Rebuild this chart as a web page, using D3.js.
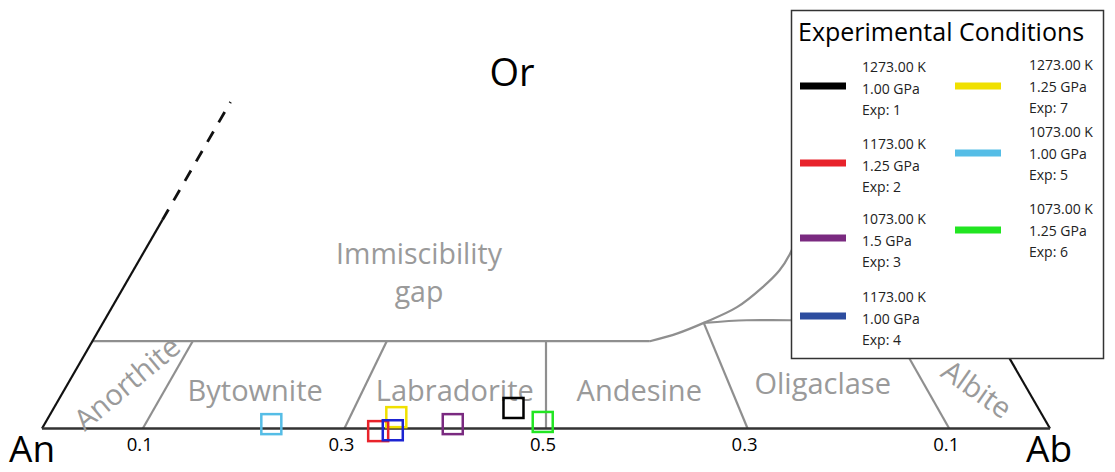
<!DOCTYPE html>
<html><head><meta charset="utf-8">
<script src="https://cdn.jsdelivr.net/npm/d3@7"></script>
<style>body{margin:0;background:#fff}text{font-family:"Open Sans",sans-serif}</style>
</head><body>
<svg id="chart" width="1115" height="472"></svg>
<script>
// ---- data ----
const experiments = [1, 2, 3, 4, 5, 6, 7];
const temperatures = ["1273.00", "1173.00", "1073.00", "1173.00", "1073.00", "1073.00", "1273.00"];
const pressures = ["1.00", "1.25", "1.5", "1.00", "1.00", "1.25", "1.25"];
const abFraction = [0.456, 0.335, 0.405, 0.349, 0.225, 0.493, 0.345];
const orFraction = [0.0235, -0.003, 0.005, -0.002, 0.005, 0.0075, 0.013];
const seriesColors = ["#000000", "#e8232b", "#7a2a80", "#1c24d2", "#55bde6", "#22e522", "#f0e000"];
const swatchColors = ["#000000", "#e8232b", "#7a2a80", "#2d4d9f", "#55bde6", "#22e522", "#f0e000"];
const legendColumns = [[1, 2, 3, 4], [7, 5, 6]];
const drawOrder = [7, 1, 2, 3, 4, 5, 6];

const tickValues = [0.1, 0.3, 0.5, 0.7, 0.9];
const tickLabels = ["0.1", "0.3", "0.5", "0.3", "0.1"];

const dividerBaseAb = [0.1, 0.3, 0.5, 0.7, 0.9];
const dividerTopAb = [0.0995, 0.292, 0.45, 0.596, 0.777];
const dividerTopOr = [0.1, 0.1, 0.1, 0.121, 0.124];

const gapLineAb = [0, 0.553];
const gapLineOr = [0.1, 0.1];
const solvusAb = [0.553, 0.576, 0.596, 0.620, 0.634, 0.641, 0.642, 0.638, 0.62];
const solvusOr = [0.1, 0.109, 0.121, 0.139, 0.162, 0.181, 0.2, 0.227, 0.28];
const branchAb = [0.596, 0.637, 0.68, 0.876];
const branchOr = [0.121, 0.124, 0.124, 0.124];

const fieldNames = ["Anorthite", "Bytownite", "Labradorite", "Andesine", "Oligaclase", "Albite"];
const fieldAb = [0.057, 0.189, 0.387, 0.570, 0.748, 0.905];
const fieldOr = [0.053, 0.045, 0.045, 0.045, 0.053, 0.046];
const fieldAngle = [-40, 0, 0, 0, 0, 35];

// ---- scales ----
const svg = d3.select("#chart");
const x = d3.scaleLinear().domain([0, 1]).range([42, 1050]);
const y = d3.scaleLinear().domain([0, 1]).range([428.5, 428.5 - 873]);
const px = (ab, or) => x(ab + or / 2);
const py = (ab, or) => y(or);
const line = d3.line().x(d => px(d[0], d[1])).y(d => py(d[0], d[1]));
const curve = d3.line().x(d => px(d[0], d[1])).y(d => py(d[0], d[1])).curve(d3.curveCatmullRom);
const gray = "#8f8f8f";

// field divider lines
dividerBaseAb.forEach((b, i) => {
  svg.append("path").attr("d", line([[b, 0], [dividerTopAb[i], dividerTopOr[i]]]))
    .attr("stroke", gray).attr("stroke-width", 2.2).attr("fill", "none");
});
// Or = 0.1 line and solvus
svg.append("path").attr("d", line(gapLineAb.map((a, i) => [a, gapLineOr[i]])))
  .attr("stroke", gray).attr("stroke-width", 2.2).attr("fill", "none");
svg.append("path").attr("d", curve(solvusAb.map((a, i) => [a, solvusOr[i]])))
  .attr("stroke", gray).attr("stroke-width", 2.2).attr("fill", "none");
svg.append("path").attr("d", curve(branchAb.map((a, i) => [a, branchOr[i]])))
  .attr("stroke", gray).attr("stroke-width", 2.2).attr("fill", "none");

// triangle edges
svg.append("path").attr("d", line([[0, 0], [0, 0.239]])).attr("stroke", "#111").attr("stroke-width", 2.2).attr("fill", "none");
svg.append("path").attr("d", line([[0, 0.239], [0, 0.374]])).attr("stroke", "#111").attr("stroke-width", 2.8)
  .attr("stroke-dasharray", "12,10.5").attr("fill", "none");
svg.append("path").attr("d", line([[1, 0], [0.75, 0.25]])).attr("stroke", "#111").attr("stroke-width", 2.2).attr("fill", "none");
svg.append("path").attr("d", line([[0, 0], [1, 0]])).attr("stroke", "#333").attr("stroke-width", 2.5).attr("fill", "none");

// text labels
const g = "#9a9a9a";
fieldNames.forEach((n, i) => {
  const cx = px(fieldAb[i], fieldOr[i]), cy = py(fieldAb[i], fieldOr[i]);
  svg.append("text").text(n).attr("fill", g).attr("font-size", 29)
    .attr("text-anchor", "middle").attr("dominant-baseline", "central")
    .attr("transform", `translate(${cx},${cy}) rotate(${fieldAngle[i]})`);
});
svg.append("text").text("Immiscibility").attr("x", 419).attr("y", 264).attr("fill", g).attr("font-size", 28.5).attr("text-anchor", "middle");
svg.append("text").text("gap").attr("x", 419).attr("y", 302).attr("fill", g).attr("font-size", 28.5).attr("text-anchor", "middle");

svg.append("text").text("Or").attr("x", 512).attr("y", 86).attr("font-size", 38).attr("text-anchor", "middle").attr("fill", "#000");
svg.append("text").text("An").attr("x", 9).attr("y", 462).attr("font-size", 37).attr("fill", "#000");
svg.append("text").text("Ab").attr("x", 1026).attr("y", 462).attr("font-size", 37).attr("fill", "#000");

// ticks
tickValues.forEach((t, i) => {
  svg.append("text").text(tickLabels[i]).attr("x", x(t) - 3).attr("y", 451)
    .attr("font-size", 18.5).attr("text-anchor", "middle").attr("fill", "#000");
});

// markers
drawOrder.forEach(e => {
  const i = experiments.indexOf(e);
  const cx = px(abFraction[i], orFraction[i]), cy = py(abFraction[i], orFraction[i]);
  svg.append("rect").attr("x", cx - 10).attr("y", cy - 10).attr("width", 20).attr("height", 20)
    .attr("fill", "none").attr("stroke", seriesColors[i]).attr("stroke-width", 2.5);
});

// legend
const lg = svg.append("g");
lg.append("rect").attr("x", 791.5).attr("y", 10.5).attr("width", 312).attr("height", 348)
  .attr("fill", "#fff").attr("stroke", "#333").attr("stroke-width", 1.5);
lg.append("text").text("Experimental Conditions").attr("x", 798).attr("y", 41).attr("font-size", 25).attr("fill", "#000");
const colX = [800, 955];
const textX = [862, 1029];
const textShift = [-19, -21];
const rowY = [[86, 163, 238, 316], [86, 153, 230]];
legendColumns.forEach((col, c) => {
  col.forEach((e, r) => {
    const i = experiments.indexOf(e);
    const sy = rowY[c][r];
    lg.append("line").attr("x1", colX[c]).attr("x2", colX[c] + 46).attr("y1", sy).attr("y2", sy)
      .attr("stroke", swatchColors[i]).attr("stroke-width", 7);
    const lines = [temperatures[i] + " K", pressures[i] + " GPa", "Exp: " + e];
    lines.forEach((t, k) => {
      lg.append("text").text(t).attr("x", textX[c]).attr("y", sy + textShift[c] + 5 + k * 21.5)
        .attr("font-size", 14).attr("fill", "#222");
    });
  });
});
</script>
</body></html>
